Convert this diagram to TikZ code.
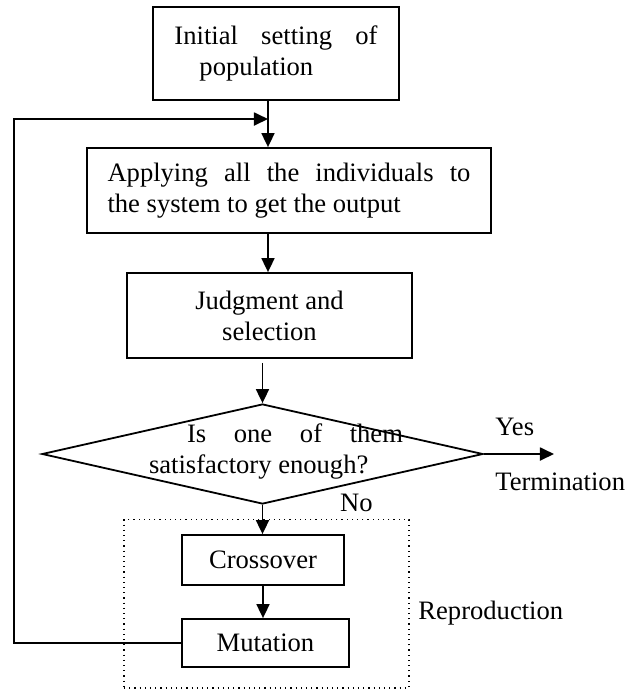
\documentclass[tikz,border=0pt]{standalone}
\usepackage{fontspec}
\setmainfont{Liberation Serif}
\usetikzlibrary{positioning, arrows.meta, shapes.geometric}

\begin{document}
\begin{tikzpicture}[x=0.5pt, y=-0.5pt,
    font=\fontsize{13.3}{15.5}\selectfont,
    procbox/.style={draw, line width=0.9pt, inner sep=0pt},
    flow/.style={line width=0.9pt, -{Triangle[length=7pt, width=6.5pt]}}]
    \useasboundingbox (0,0) rectangle (643,693);

    % main chain
    \node[procbox, minimum width=123pt, minimum height=46.5pt, align=left] (init) at (276,53.5)
        {\makebox[101.5pt][s]{Initial setting of}\\\hspace*{12.5pt}population};
    \node[procbox, minimum width=202pt, minimum height=42.5pt, align=left] (apply) at (289,190.5)
        {\makebox[181.5pt][s]{Applying all the individuals to}\\the system to get the output};
    \node[procbox, minimum width=142.5pt, minimum height=42.5pt, align=center] (judge) at (269.5,315.5)
        {Judgment and\\selection};
    \node[procbox, diamond, minimum width=220.5pt, minimum height=50pt] (test) at (262.5,454) {};
    \node[align=left, inner sep=0pt] (testtxt) at (276,451)
        {\hspace*{19pt}\makebox[108pt][s]{Is one of them}\\satisfactory enough?};

    % reproduction group
    \node[draw, dotted, line width=0.6pt, minimum width=142.5pt, minimum height=84.25pt] (repro) at (266.5,603.75) {};
    \node[procbox, minimum width=81pt, minimum height=25pt] (cross) at (263,560) {Crossover};
    \node[procbox, minimum width=83.5pt, minimum height=24pt] (mut) at (265.5,643) {Mutation};
    \node[anchor=west, inner sep=0pt] (reprolabel) at (418,613) {Reproduction};

    % branch labels
    \coordinate (j1) at (268,119);
    \coordinate (rail) at (14,119);
    \coordinate (term) at (554,454);
    \node[anchor=west, inner sep=0pt] (yes) at (495,427) {Yes};
    \node[anchor=west, inner sep=0pt] (termlabel) at (495,482) {Termination};
    \node[inner sep=0pt] (no) at (356.5,503) {No};

    \path[flow]
    (init.south -| j1) edge (apply.north -| j1)
    (apply.south -| j1) edge (judge.north -| j1)
    ([yshift=-2pt]judge.south -| test.north) edge (test.north)
    (test.south) edge (test.south |- cross.north)
    (cross.south) edge (cross.south |- mut.north)
    (test.east) edge (term);

    \draw[flow] (mut.west) -- (mut.west -| rail) -- (rail) -- (j1);
\end{tikzpicture}
\end{document}
